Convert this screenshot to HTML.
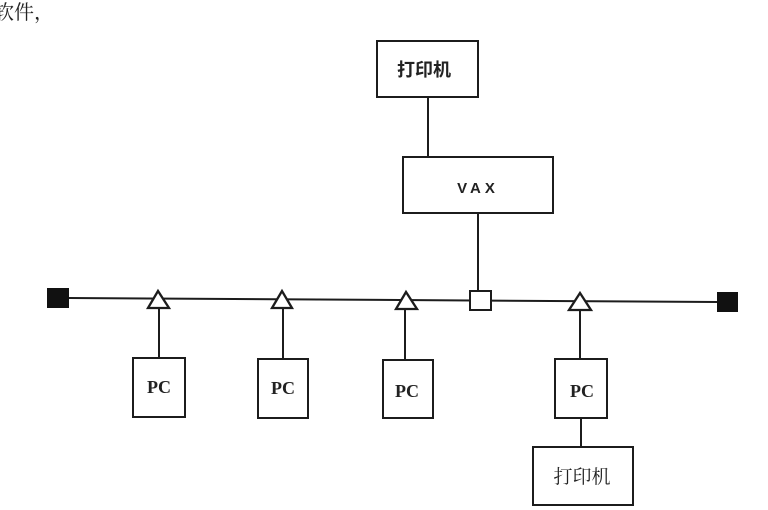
<!DOCTYPE html>
<html>
<head>
<meta charset="utf-8">
<style>
  html, body { margin: 0; padding: 0; background: #fff; }
  body { width: 768px; height: 510px; overflow: hidden; }
  svg { display: block; }
</style>
</head>
<body>
<svg width="768" height="510" viewBox="0 0 768 510" xmlns="http://www.w3.org/2000/svg">
  <rect x="0" y="0" width="768" height="510" fill="#fff"/>

  <!-- top-left cut-off text -->
  <text x="-6" y="19" font-family="'Liberation Serif','Noto Serif CJK SC',serif" font-size="20" fill="#222">软件，</text>

  <g stroke="#1c1c1c" stroke-width="2" fill="none">
    <!-- bus line -->
    <line x1="69" y1="298" x2="717" y2="302"/>

    <!-- printer -> VAX -->
    <line x1="428" y1="97" x2="428" y2="157"/>
    <!-- VAX -> small square -->
    <line x1="478" y1="213" x2="478" y2="291"/>

    <!-- top printer box -->
    <rect x="377" y="41" width="101" height="56" fill="#fff"/>
    <!-- VAX box -->
    <rect x="403" y="157" width="150" height="56" fill="#fff"/>

    <!-- drops to PCs -->
    <line x1="159" y1="308" x2="159" y2="358"/>
    <line x1="283" y1="308" x2="283" y2="359"/>
    <line x1="405" y1="309" x2="405" y2="360"/>
    <line x1="580" y1="310" x2="580" y2="359"/>
    <line x1="581" y1="418" x2="581" y2="447"/>

    <!-- PC boxes -->
    <rect x="133" y="358" width="52" height="59" fill="#fff"/>
    <rect x="258" y="359" width="50" height="59" fill="#fff"/>
    <rect x="383" y="360" width="50" height="58" fill="#fff"/>
    <rect x="555" y="359" width="52" height="59" fill="#fff"/>

    <!-- bottom printer box -->
    <rect x="533" y="447" width="100" height="58" fill="#fff"/>

    <!-- triangles (taps) -->
    <polygon points="158,291 148,308 169,308" fill="#fff" stroke-width="2.3"/>
    <polygon points="282,291 272,308 292,308" fill="#fff" stroke-width="2.3"/>
    <polygon points="406,292 396,309 417,309" fill="#fff" stroke-width="2.3"/>
    <polygon points="580,293 569,310 591,310" fill="#fff" stroke-width="2.3"/>

    <!-- small hollow square (VAX tap) -->
    <rect x="470" y="291" width="21" height="19" fill="#fff"/>
  </g>

  <!-- terminators -->
  <rect x="47" y="288" width="22" height="20" fill="#111"/>
  <rect x="717" y="292" width="21" height="20" fill="#111"/>

  <!-- labels -->
  <text x="424" y="76" text-anchor="middle" font-family="'Liberation Sans','Noto Sans CJK SC',sans-serif" font-size="18" font-weight="bold" fill="#222">打印机</text>
  <text x="478" y="193" text-anchor="middle" font-family="'Liberation Sans',sans-serif" font-size="15" font-weight="bold" letter-spacing="4" fill="#222">VAX</text>

  <g font-family="'Liberation Serif',serif" font-size="18" font-weight="bold" fill="#222" text-anchor="middle">
    <text x="159" y="393">PC</text>
    <text x="283" y="394">PC</text>
    <text x="407" y="397">PC</text>
    <text x="582" y="397">PC</text>
  </g>

  <text x="582" y="483" text-anchor="middle" font-family="'Liberation Serif','Noto Serif CJK SC',serif" font-size="19" fill="#222">打印机</text>
</svg>
</body>
</html>
